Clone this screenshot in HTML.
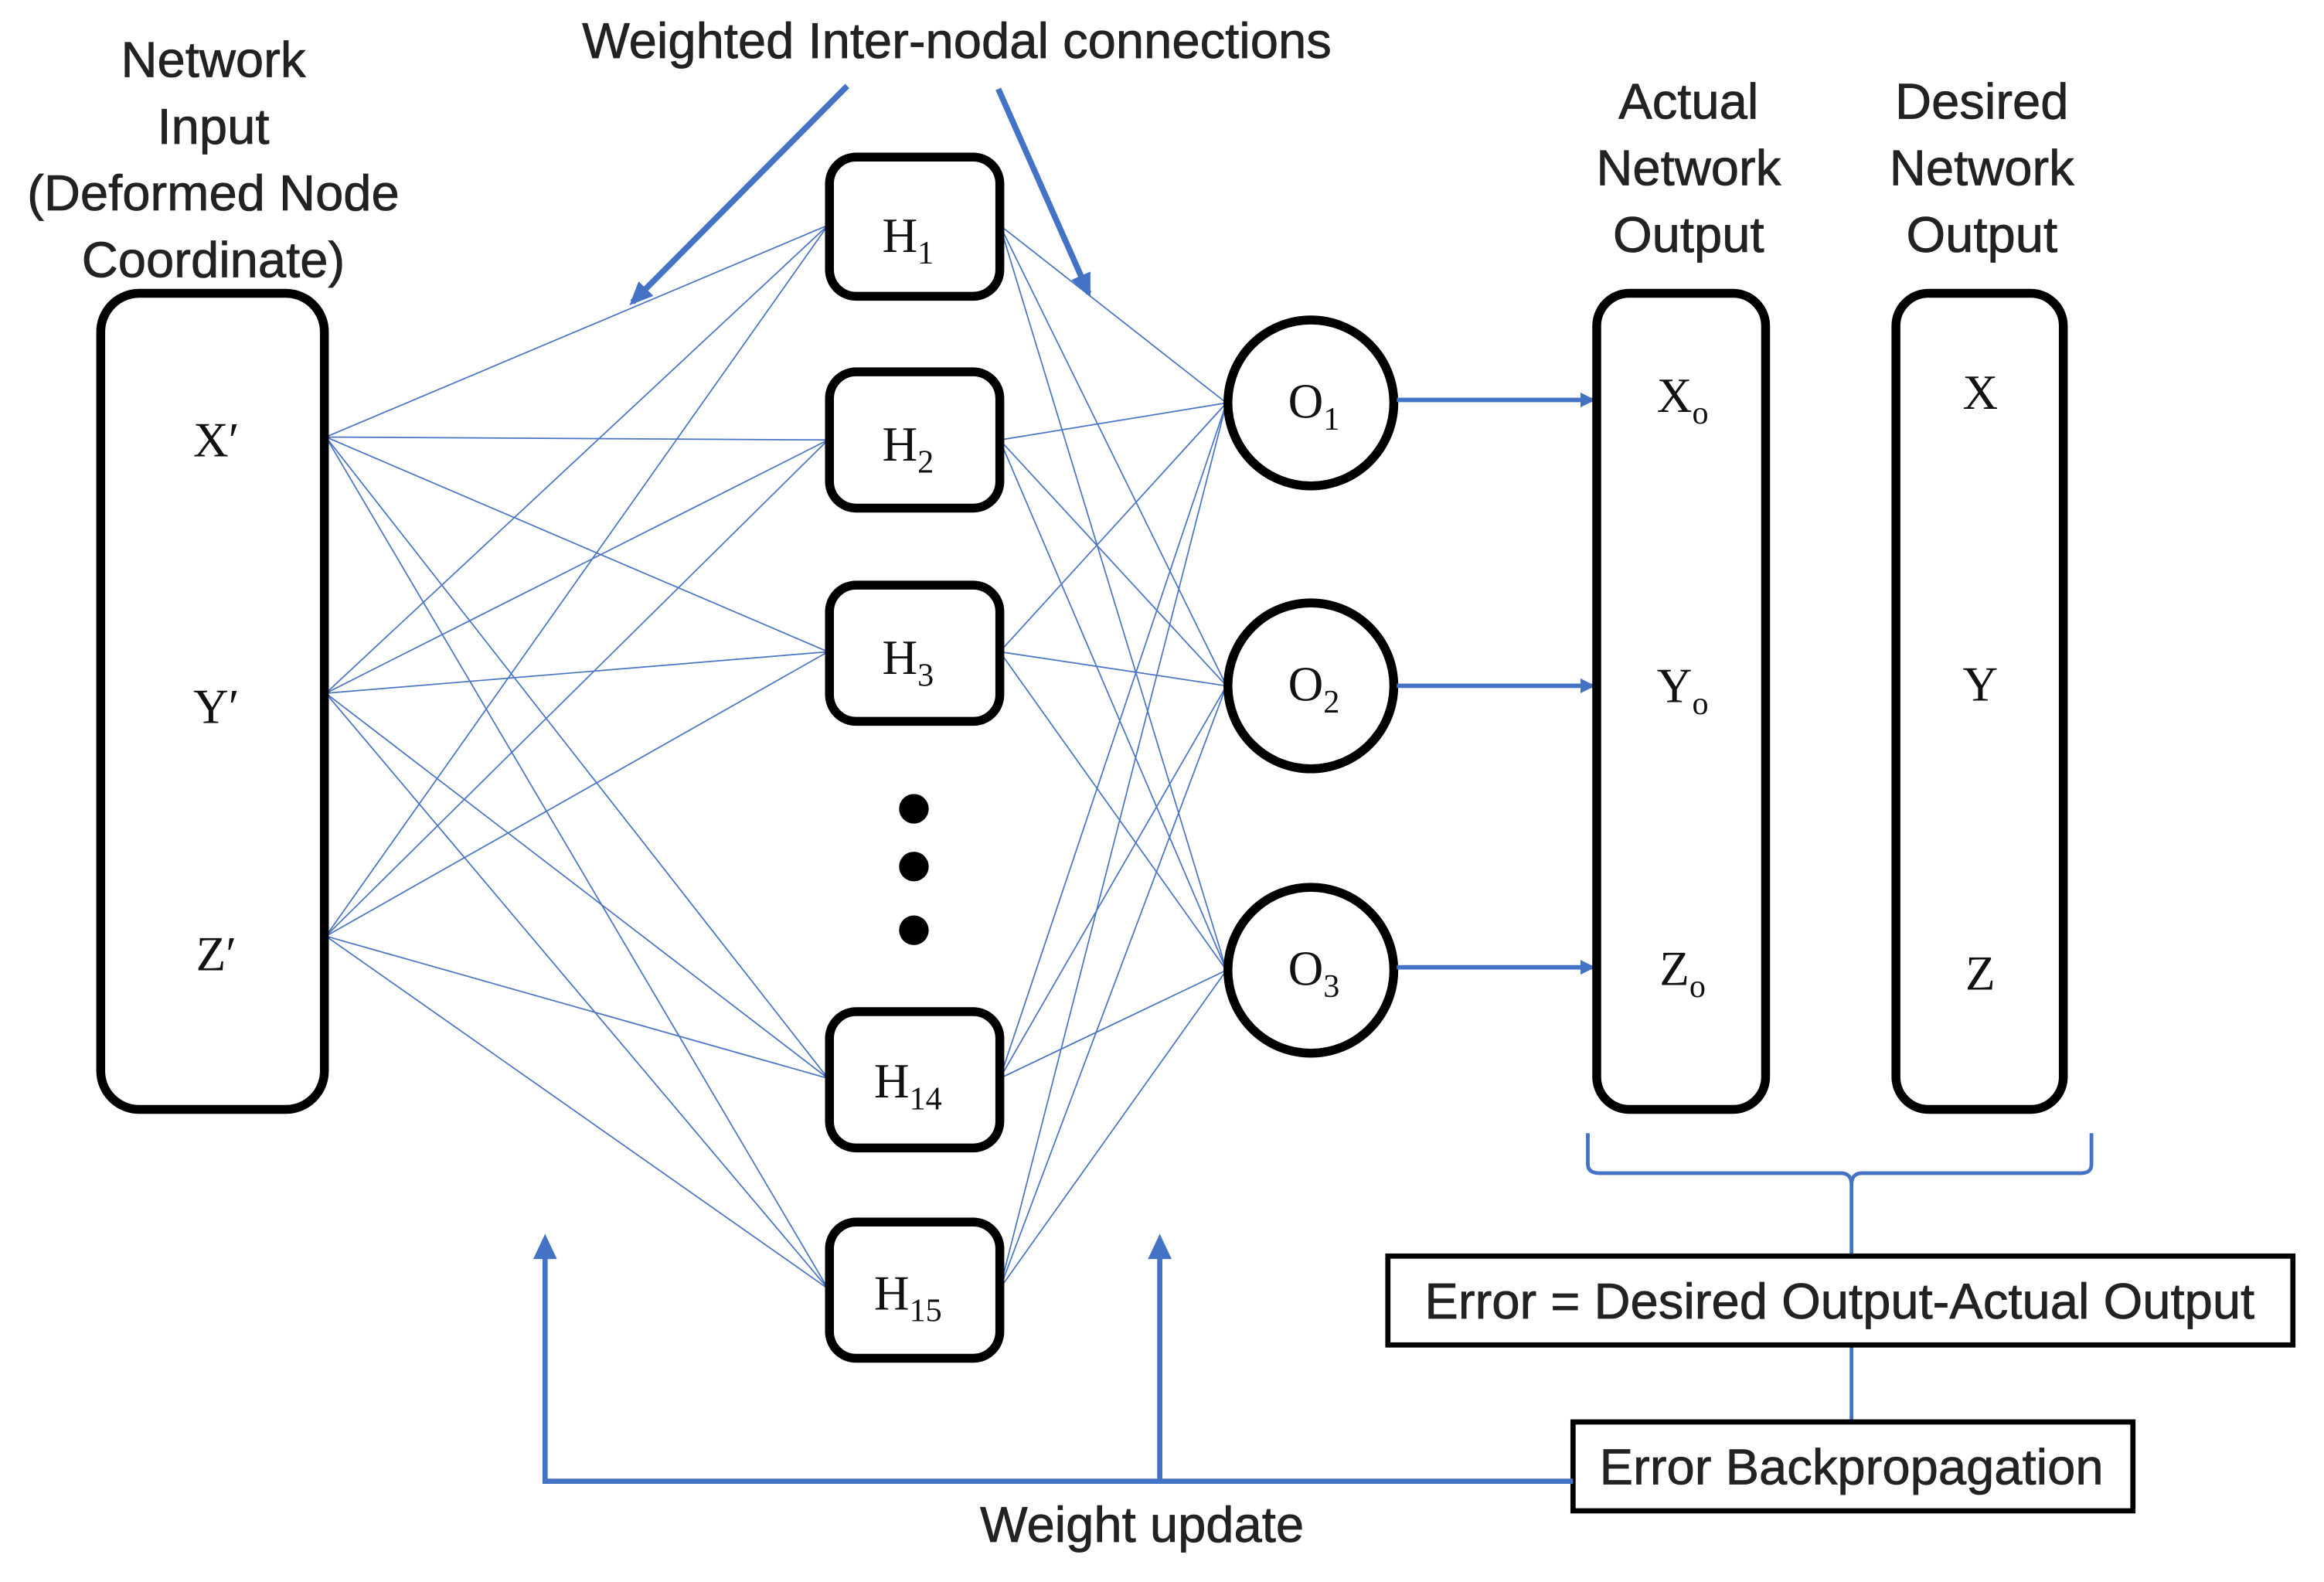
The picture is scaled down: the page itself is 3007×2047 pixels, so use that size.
<!DOCTYPE html>
<html><head><meta charset="utf-8"><style>
html,body{margin:0;padding:0;background:#fff;width:3007px;height:2047px;overflow:hidden}
svg{display:block}
.t{font-family:"Liberation Sans",sans-serif;font-size:34px;fill:#222;stroke:#222;stroke-width:0.4;text-anchor:middle}
.s{font-family:"Liberation Serif",serif;font-size:33px;fill:#111;text-anchor:middle}
.c{stroke:#4a74c4;stroke-width:0.9;fill:none}
.b{fill:#fff;stroke:#000;stroke-width:6}
</style></head><body>
<svg width="3007" height="2047" viewBox="0 0 1569 1068" xmlns="http://www.w3.org/2000/svg">
<defs>
<marker id="a" markerWidth="10" markerHeight="10" refX="8" refY="5" orient="auto" markerUnits="userSpaceOnUse"><path d="M0,0 L10,5 L0,10 z" fill="#4472c4"/></marker>
<marker id="a2" markerWidth="16" markerHeight="16" refX="13" refY="8" orient="auto" markerUnits="userSpaceOnUse"><path d="M0,1 L16,8 L0,15 z" fill="#4472c4"/></marker>
</defs>
<g class="c">
<path d="M220,295 L559,152 M220,295 L559,297 M220,295 L559,440 M220,295 L559,728 M220,295 L559,870
M220,468 L559,152 M220,468 L559,297 M220,468 L559,440 M220,468 L559,728 M220,468 L559,870
M220,632 L559,152 M220,632 L559,297 M220,632 L559,440 M220,632 L559,728 M220,632 L559,870"/>
<path d="M675,152 L828,272 M675,152 L828,463 M675,152 L828,655
M675,297 L828,272 M675,297 L828,463 M675,297 L828,655
M675,440 L828,272 M675,440 L828,463 M675,440 L828,655
M675,728 L828,272 M675,728 L828,463 M675,728 L828,655
M675,870 L828,272 M675,870 L828,463 M675,870 L828,655"/>
</g>
<rect class="b" x="68" y="198" width="151" height="551" rx="26"/>
<text class="t" x="144" y="52">Network</text>
<text class="t" x="144" y="97">Input</text>
<text class="t" x="144" y="142">(Deformed Node</text>
<text class="t" x="144" y="187">Coordinate)</text>
<text class="s" x="146" y="308">X′</text>
<text class="s" x="146" y="488">Y′</text>
<text class="s" x="146" y="655">Z′</text>
<text class="t" x="646" y="39">Weighted Inter-nodal connections</text>
<line x1="572" y1="58" x2="427" y2="204" stroke="#4472c4" stroke-width="4" marker-end="url(#a2)"/>
<line x1="674" y1="60" x2="735" y2="198" stroke="#4472c4" stroke-width="4" marker-end="url(#a2)"/>
<rect class="b" x="560" y="106" width="115" height="94" rx="18"/>
<rect class="b" x="560" y="251" width="115" height="92" rx="18"/>
<rect class="b" x="560" y="395" width="115" height="92" rx="18"/>
<rect class="b" x="560" y="683" width="115" height="92" rx="18"/>
<rect class="b" x="560" y="825" width="115" height="92" rx="18"/>
<text class="s" x="613" y="170">H<tspan font-size="22" dy="8">1</tspan></text>
<text class="s" x="613" y="311">H<tspan font-size="22" dy="8">2</tspan></text>
<text class="s" x="613" y="455">H<tspan font-size="22" dy="8">3</tspan></text>
<text class="s" x="613" y="741">H<tspan font-size="22" dy="8">14</tspan></text>
<text class="s" x="613" y="884">H<tspan font-size="22" dy="8">15</tspan></text>
<circle cx="617" cy="546" r="10" fill="#000"/>
<circle cx="617" cy="585" r="10" fill="#000"/>
<circle cx="617" cy="628" r="10" fill="#000"/>
<circle class="b" cx="885" cy="272" r="56"/>
<circle class="b" cx="885" cy="463" r="56"/>
<circle class="b" cx="885" cy="655" r="56"/>
<text class="s" x="887" y="282">O<tspan font-size="22" dy="8">1</tspan></text>
<text class="s" x="887" y="473">O<tspan font-size="22" dy="8">2</tspan></text>
<text class="s" x="887" y="665">O<tspan font-size="22" dy="8">3</tspan></text>
<g stroke="#4472c4" stroke-width="3">
<line x1="943" y1="270" x2="1075" y2="270" marker-end="url(#a)"/>
<line x1="943" y1="463" x2="1075" y2="463" marker-end="url(#a)"/>
<line x1="943" y1="653" x2="1075" y2="653" marker-end="url(#a)"/>
</g>
<rect class="b" x="1078" y="198" width="114" height="551" rx="22"/>
<rect class="b" x="1280" y="198" width="113" height="551" rx="22"/>
<text class="t" x="1140" y="80">Actual</text>
<text class="t" x="1140" y="125">Network</text>
<text class="t" x="1140" y="170">Output</text>
<text class="t" x="1338" y="80">Desired</text>
<text class="t" x="1338" y="125">Network</text>
<text class="t" x="1338" y="170">Output</text>
<text class="s" x="1136" y="278">X<tspan font-size="22" dy="8">o</tspan></text>
<text class="s" x="1136" y="474">Y<tspan font-size="22" dy="8">o</tspan></text>
<text class="s" x="1136" y="665">Z<tspan font-size="22" dy="8">o</tspan></text>
<text class="s" x="1337" y="276">X</text>
<text class="s" x="1337" y="473">Y</text>
<text class="s" x="1337" y="668">Z</text>
<path d="M1072,765 L1072,786 Q1072,792 1080,792 L1243,792 Q1250,792 1250,800 Q1250,792 1257,792 L1405,792 Q1412,792 1412,786 L1412,765 M1250,800 L1250,848 M1250,908 L1250,960" stroke="#4472c4" stroke-width="2.5" fill="none"/>
<rect x="937" y="848" width="611" height="60" fill="#fff" stroke="#000" stroke-width="3.5"/>
<text class="t" x="1242" y="890">Error = Desired Output-Actual Output</text>
<rect x="1062" y="960" width="378" height="60" fill="#fff" stroke="#000" stroke-width="3.5"/>
<text class="t" x="1250" y="1002">Error Backpropagation</text>
<g stroke="#4472c4" stroke-width="3.5" fill="none">
<path d="M1062,1000 L368,1000 L368,845"/>
<line x1="783" y1="1000" x2="783" y2="845"/>
</g>
<path d="M360,850 L368,833 L376,850 z" fill="#4472c4"/>
<path d="M775,850 L783,833 L791,850 z" fill="#4472c4"/>
<text class="t" x="771" y="1041">Weight update</text>
</svg>
</body></html>
